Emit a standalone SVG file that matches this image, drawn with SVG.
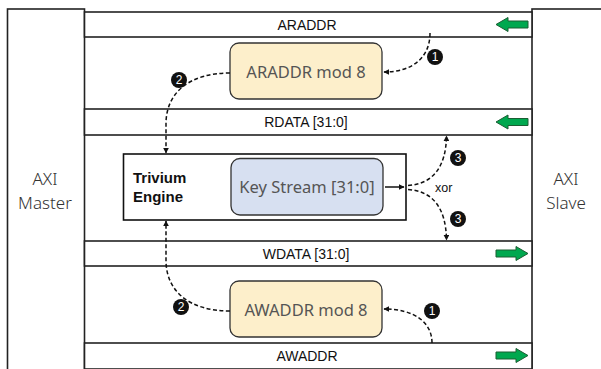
<svg xmlns="http://www.w3.org/2000/svg" width="601" height="369" viewBox="0 0 601 369">
  <defs>
    <style>
      .frame { fill: #fff; stroke: #222; stroke-width: 1.6; }
      .bus-label { font-family: "Liberation Sans", Arial, sans-serif; font-size: 14px; fill: #111; text-anchor: middle; }
      .side-label { font-family: "Noto Sans", "Open Sans", sans-serif; font-size: 17px; fill: #333; text-anchor: middle; font-weight: 300; }
      .box-label { font-family: "Noto Sans", "Open Sans", sans-serif; font-size: 16.5px; fill: #555; text-anchor: middle; }
      .mod-box { fill: #fdefcb; stroke: #333; stroke-width: 1.3; }
      .ks-box { fill: #d7e0f1; stroke: #333; stroke-width: 1.3; }
      .flow { fill: none; stroke: #111; stroke-width: 1.5; stroke-dasharray: 4 2.5; }
      .solid { fill: none; stroke: #111; stroke-width: 1.5; }
      .badge circle { fill: #111; }
      .badge text { font-family: "Liberation Sans", Arial, sans-serif; font-size: 12px; fill: #fff; text-anchor: middle; }
      .dir { fill: #00a84f; stroke: #1b5e33; stroke-width: 1; }
    </style>
    <marker id="head" viewBox="0 0 10 10" refX="9" refY="5" markerWidth="6" markerHeight="6" orient="auto-start-reverse" markerUnits="userSpaceOnUse">
      <path d="M0,0 L10,5 L0,10 Z" fill="#111"/>
    </marker>
  </defs>

  <!-- Master and slave sides -->
  <g id="axi-master">
    <rect class="frame" x="7.5" y="9" width="77" height="370"/>
    <text class="side-label" x="45" y="185">AXI</text>
    <text class="side-label" x="45" y="209">Master</text>
  </g>
  <g id="axi-slave">
    <rect class="frame" x="532" y="9" width="80" height="370"/>
    <text class="side-label" x="566" y="185">AXI</text>
    <text class="side-label" x="566" y="209">Slave</text>
  </g>

  <!-- Bus channels -->
  <g id="araddr-bus">
    <rect class="frame" x="84.5" y="12" width="447.5" height="25"/>
    <text class="bus-label" x="307" y="29.5">ARADDR</text>
    <path class="dir" d="M496,24.5 L508,17.5 L508,21 L528,21 L528,28 L508,28 L508,31.5 Z"/>
  </g>
  <g id="rdata-bus">
    <rect class="frame" x="84.5" y="109" width="447.5" height="26"/>
    <text class="bus-label" x="306" y="127">RDATA [31:0]</text>
    <path class="dir" d="M496,122 L508,115 L508,118.5 L528,118.5 L528,125.5 L508,125.5 L508,129 Z"/>
  </g>
  <g id="wdata-bus">
    <rect class="frame" x="84.5" y="241" width="447.5" height="25"/>
    <text class="bus-label" x="306" y="258.5">WDATA [31:0]</text>
    <path class="dir" d="M528,253.5 L516,246.5 L516,250 L496,250 L496,257 L516,257 L516,260.5 Z"/>
  </g>
  <g id="awaddr-bus">
    <rect class="frame" x="84.5" y="343" width="447.5" height="26"/>
    <text class="bus-label" x="307" y="361">AWADDR</text>
    <path class="dir" d="M528,355.5 L516,348.5 L516,352 L496,352 L496,359 L516,359 L516,362.5 Z"/>
  </g>

  <!-- Address modulo blocks -->
  <g id="araddr-mod">
    <rect class="mod-box" x="230" y="43" width="152" height="56" rx="9"/>
    <text class="box-label" x="306" y="77.5">ARADDR mod 8</text>
  </g>
  <g id="awaddr-mod">
    <rect class="mod-box" x="230" y="281" width="152" height="56" rx="9"/>
    <text class="box-label" x="306" y="315.5">AWADDR mod 8</text>
  </g>

  <!-- Trivium engine with key stream -->
  <g id="trivium-engine">
    <rect x="123.5" y="154" width="282.5" height="66" fill="#fff" stroke="#111" stroke-width="1.6"/>
    <text x="133" y="183" font-family="Liberation Sans, Arial, sans-serif" font-size="15" font-weight="bold" fill="#111">Trivium</text>
    <text x="133" y="202" font-family="Liberation Sans, Arial, sans-serif" font-size="15" font-weight="bold" fill="#111">Engine</text>
  </g>
  <g id="key-stream">
    <rect class="ks-box" x="231" y="158.5" width="152" height="56.5" rx="9"/>
    <text class="box-label" x="307" y="192.5">Key Stream [31:0]</text>
  </g>

  <!-- Connectors -->
  <g id="connectors">
    <path class="flow" d="M430,33 C430,58 412,72 384,72" marker-end="url(#head)"/>
    <path class="flow" d="M230,73 C190,73 167,92 166,122 L166,153" marker-end="url(#head)"/>
    <path class="flow" d="M432,343 C432,322 414,309 384,309" marker-end="url(#head)"/>
    <path class="flow" d="M230,311 C190,311 167,292 166,262 L166,221" marker-end="url(#head)"/>
    <path class="solid" d="M385,187 L404,187" marker-end="url(#head)"/>
    <path class="flow" d="M408,185.5 C432,184 446,168 446.5,136" marker-end="url(#head)"/>
    <path class="flow" d="M408,189.5 C432,191 446,207 446.5,240" marker-end="url(#head)"/>
    <text x="435" y="192" font-family="Liberation Sans, Arial, sans-serif" font-size="12.5" fill="#111">xor</text>
  </g>

  <!-- Step badges -->
  <g id="badges">
    <g class="badge"><circle cx="435" cy="57" r="8"/><text x="435" y="61.2">1</text></g>
    <g class="badge"><circle cx="179" cy="80" r="8"/><text x="179" y="84.2">2</text></g>
    <g class="badge"><circle cx="458" cy="158" r="8"/><text x="458" y="162.2">3</text></g>
    <g class="badge"><circle cx="458" cy="219" r="8"/><text x="458" y="223.2">3</text></g>
    <g class="badge"><circle cx="181" cy="307" r="8"/><text x="181" y="311.2">2</text></g>
    <g class="badge"><circle cx="432" cy="311" r="8"/><text x="432" y="315.2">1</text></g>
  </g>
</svg>
